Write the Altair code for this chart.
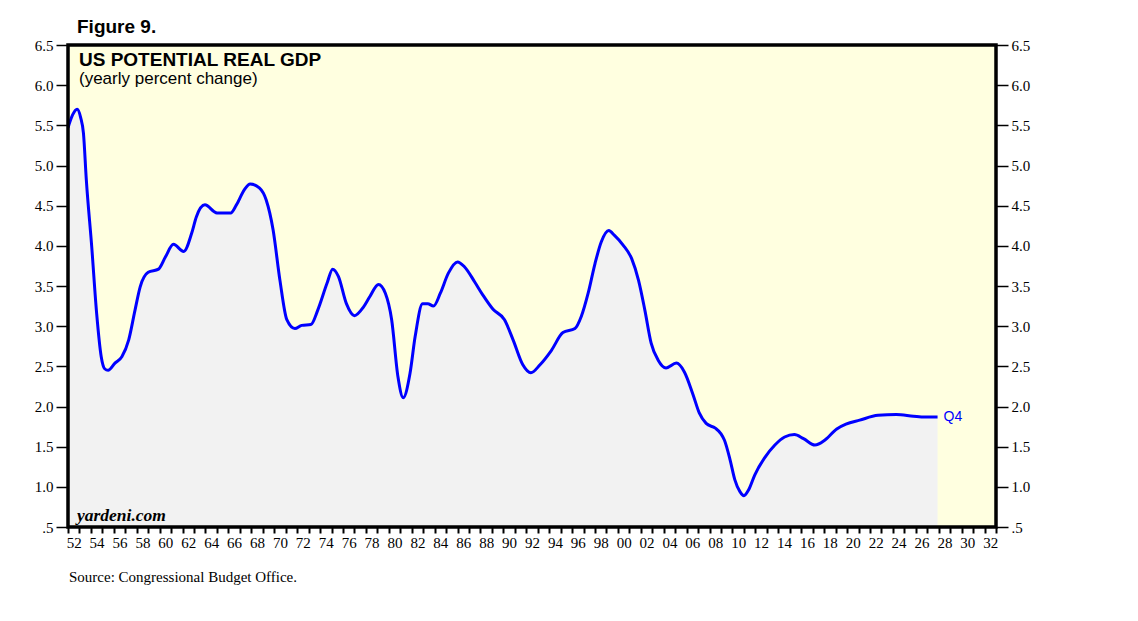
import altair as alt
import pandas as pd

# ---- data (year as decimal, yearly % change) ----
years = [
    1952.0, 1952.4, 1952.8, 1953.1, 1953.35, 1953.6, 1954.07, 1954.5, 1954.9, 1955.2,
    1955.5, 1956.1, 1956.7, 1957.3, 1957.85, 1958.3, 1959.0, 1959.9, 1960.5, 1961.2,
    1962.1, 1962.8, 1963.2, 1963.95, 1965.0, 1966.2, 1966.7, 1967.4, 1967.9, 1968.7,
    1969.3, 1969.9, 1970.5, 1971.1, 1971.8, 1972.4, 1973.2, 1973.8, 1974.6, 1975.1,
    1975.6, 1976.3, 1977.0, 1977.8, 1978.35, 1979.1, 1979.7, 1980.25, 1980.8, 1981.26,
    1981.85, 1982.3, 1982.95, 1983.4, 1983.9, 1984.5, 1985.2, 1986.0, 1986.6, 1987.5,
    1988.2, 1989.1, 1990.1, 1990.85, 1991.7, 1992.4, 1993.2, 1994.2, 1995.2, 1996.25,
    1996.8, 1997.4, 1998.0, 1998.55, 1999.2, 1999.7, 2000.45, 2001.2, 2001.8, 2002.35,
    2002.9, 2003.5, 2004.2, 2005.1, 2005.8, 2006.55, 2007.1, 2007.7, 2008.5, 2009.0,
    2009.3, 2009.8, 2010.2, 2010.65, 2011.0, 2011.4, 2011.95, 2012.8, 2013.7, 2014.55,
    2015.4, 2016.2, 2017.2, 2018.05, 2019.1, 2019.9, 2021.1, 2022.7, 2024.3, 2025.8,
    2026.8, 2027.9,
]
values = [
    5.47, 5.63, 5.70, 5.60, 5.40, 4.82, 3.99, 3.16, 2.62, 2.47,
    2.45, 2.54, 2.62, 2.83, 3.20, 3.49, 3.67, 3.71, 3.86, 4.02,
    3.93, 4.16, 4.36, 4.51, 4.41, 4.41, 4.51, 4.70, 4.77, 4.72,
    4.57, 4.20, 3.57, 3.08, 2.97, 3.01, 3.02, 3.20, 3.53, 3.71,
    3.62, 3.28, 3.13, 3.24, 3.37, 3.52, 3.41, 3.08, 2.37, 2.11,
    2.41, 2.87, 3.28, 3.28, 3.25, 3.41, 3.66, 3.80, 3.74, 3.55,
    3.39, 3.21, 3.08, 2.83, 2.52, 2.42, 2.52, 2.70, 2.92, 2.97,
    3.12, 3.41, 3.78, 4.05, 4.19, 4.13, 4.01, 3.84, 3.57, 3.20,
    2.79, 2.58, 2.48, 2.54, 2.43, 2.15, 1.92, 1.79, 1.73, 1.66,
    1.58, 1.33, 1.09, 0.94, 0.89, 0.96, 1.15, 1.36, 1.52, 1.62,
    1.65, 1.60, 1.52, 1.58, 1.72, 1.78, 1.83, 1.89, 1.90, 1.88,
    1.87, 1.87,
]

x_tick_years = list(range(1952, 2034))
y_ticks = [0.5, 1.0, 1.5, 2.0, 2.5, 3.0, 3.5, 4.0, 4.5, 5.0, 5.5, 6.0, 6.5]

title_text = "Figure 9."
panel_title = "US POTENTIAL REAL GDP"
panel_subtitle = "(yearly percent change)"
watermark = "yardeni.com"
source_text = "Source: Congressional Budget Office."
end_label = "Q4"

df = pd.DataFrame({"year": years, "value": values})
last = df.tail(1).assign(label=end_label)

W, H = 928, 482

x_scale = alt.Scale(domain=[1952, 2033], nice=False, zero=False)
y_scale = alt.Scale(domain=[0.5, 6.5], nice=False, zero=False)

x_axis = alt.Axis(
    values=x_tick_years,
    labelExpr="datum.value % 2 == 0 ? format(datum.value % 100, '02d') : ''",
    labelOffset=5.7, labelOverlap=False, labelFlush=False,
    tickSize=6, tickWidth=2, tickColor="black", domain=False, grid=False,
    labelFont="Liberation Serif", labelFontSize=15, labelColor="black",
    labelPadding=2, title=None, orient="bottom",
)

def y_axis(orient):
    return alt.Axis(
        values=y_ticks,
        labelExpr="datum.value == 0.5 ? '.5' : format(datum.value, '.1f')",
        orient=orient, tickSize=12, tickWidth=1.5, tickColor="black",
        domain=False, grid=False, labelFont="Liberation Serif",
        labelFontSize=15, labelColor="black", labelPadding=3, title=None,
    )

X = alt.X("year:Q", scale=x_scale, axis=x_axis)
Y_plain = alt.Y("value:Q", scale=y_scale, axis=None)
Y_left = alt.Y("value:Q", scale=y_scale, axis=y_axis("left"))
Y_right = alt.Y("value:Q", scale=y_scale, axis=y_axis("right"))

base = alt.Chart(df)

area = base.mark_area(color="#F2F2F2", interpolate="monotone", clip=True).encode(
    x=X, y=Y_plain, y2=alt.datum(0.5),
)

line = base.mark_line(color="#0000FF", strokeWidth=3, interpolate="monotone", clip=True).encode(
    x=X, y=Y_left,
)

right_axis = base.mark_line(opacity=0).encode(x=X, y=Y_right)

q4 = alt.Chart(last).mark_text(
    align="left", baseline="middle", dx=6, font="Liberation Sans",
    fontSize=14, color="#0000FF",
).encode(x=X, y=Y_plain, text="label:N")

frame = alt.Chart(pd.DataFrame({"a": [0]})).mark_rect(
    filled=False, stroke="black", strokeWidth=3.5
).encode(x=alt.value(0), x2=alt.value(W), y=alt.value(0), y2=alt.value(H))

def label(text, x, y, **kw):
    return alt.Chart(pd.DataFrame({"t": [text]})).mark_text(
        align="left", baseline="alphabetic", color="black", **kw
    ).encode(x=alt.value(x), y=alt.value(y), text="t:N")

fig_title = label(title_text, 9, -12, font="Liberation Sans", fontSize=19, fontWeight="bold")
p_title = label(panel_title, 11, 21, font="Liberation Sans", fontSize=19, fontWeight="bold")
p_sub = label(panel_subtitle, 11, 39, font="Liberation Sans", fontSize=17)
wm = label(watermark, 9, 476, font="Liberation Serif", fontSize=17.5, fontWeight="bold", fontStyle="italic")
src = label(source_text, 1, 537, font="Liberation Serif", fontSize=15)

chart = alt.layer(
    area, line, right_axis, q4, frame, fig_title, p_title, p_sub, wm, src
).resolve_axis(y="independent").properties(
    width=W, height=H,
    autosize="none",
    padding={"left": 60, "top": 37, "right": 80, "bottom": 70},
    background="white",
).configure_view(fill="#FFFFE0", stroke=None)

chart.save("out.html", embed_options={"renderer": "svg", "actions": False})
